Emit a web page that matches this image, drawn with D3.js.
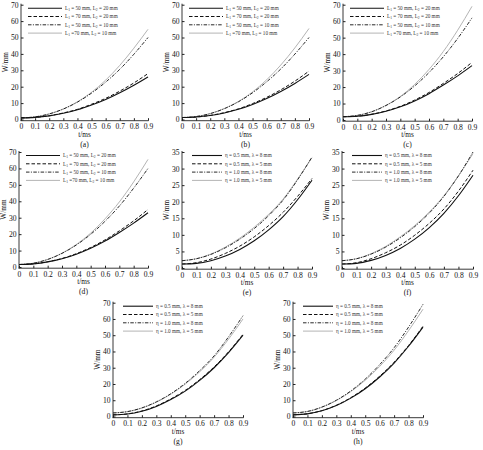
<!DOCTYPE html>
<html>
<head>
<meta charset="utf-8">
<script src="https://cdn.jsdelivr.net/npm/d3@7"></script>
<style>
  body { margin: 0; background: #fff; }
  svg { display: block; font-family: "Liberation Serif", "DejaVu Serif", serif; }
</style>
</head>
<body>
<svg id="chart" width="483" height="450"></svg>
<script>
// time axis (ms)
const times = [0, 0.1, 0.2, 0.3, 0.4, 0.5, 0.6, 0.7, 0.8, 0.9];
const xTicks = [0, 0.1, 0.2, 0.3, 0.4, 0.5, 0.6, 0.7, 0.8, 0.9];
const yTicks70 = [0, 10, 20, 30, 40, 50, 60, 70];
const yTicks35 = [0, 5, 10, 15, 20, 25, 30, 35];

// legend entries
const legendL = [
  ["50", "20"], ["70", "20"], ["50", "10"], ["70", "10"]
];
const legendEta = [
  "η = 0.5 mm, λ = 8 mm", "η = 0.5 mm, λ = 5 mm",
  "η = 1.0 mm, λ = 8 mm", "η = 1.0 mm, λ = 5 mm"
];

// W (mm) for each panel: solid, dashed, dash-dot, grey
const aSolid = [1, 1.3, 2.2, 3.8, 5.9, 8.8, 12.2, 16.3, 20.9, 26];
const aDash = [1, 1.3, 2.3, 4.0, 6.2, 9.3, 12.9, 17.3, 22.3, 28];
const aDashDot = [1, 1.6, 3.4, 6.4, 10.6, 16.1, 22.8, 30.6, 39.8, 50];
const aGray = [1, 1.6, 3.4, 6.4, 10.8, 16.6, 24, 33, 43.5, 55];

const bSolid = [1.2, 1.5, 2.4, 4.0, 6.2, 9.2, 12.8, 17.1, 22, 27.5];
const bDash = [1.2, 1.5, 2.5, 4.2, 6.5, 9.7, 13.5, 18.1, 23.4, 29.5];
const bDashDot = [1.2, 1.8, 3.6, 6.6, 10.8, 16.3, 23, 30.8, 39.9, 50];
const bGray = [1.2, 1.8, 3.6, 6.7, 11, 16.8, 24.2, 33.2, 43.7, 55.5];

const cSolid = [2, 2.3, 3.4, 5.3, 8, 11.6, 16, 21.2, 26.8, 33];
const cDash = [2, 2.3, 3.5, 5.5, 8.3, 12.1, 16.7, 22.2, 28.2, 35];
const cDashDot = [2, 2.8, 5, 8.8, 14, 20.7, 28.8, 38.4, 49.5, 62];
const cGray = [2, 2.8, 5, 8.9, 14.3, 21.6, 30.7, 41.6, 54.5, 69];

const dSolid = [1.5, 1.9, 3.1, 5, 7.8, 11.4, 15.8, 21, 26.7, 33];
const dDash = [1.5, 1.9, 3.2, 5.2, 8.1, 11.9, 16.5, 22, 28.1, 35];
const dDashDot = [1.5, 2.3, 4.6, 8.3, 13.4, 19.9, 27.8, 37.1, 48, 60];
const dGray = [1.5, 2.3, 4.6, 8.4, 13.7, 20.6, 29.3, 39.6, 51.8, 65.5];

const eSolid = [1.2, 1.4, 2.2, 3.6, 5.6, 8.2, 11.5, 15.5, 20.6, 26.5];
const eDash = [1.2, 1.6, 2.7, 4.4, 6.6, 9.4, 12.8, 16.8, 21.6, 27];
const eDashDot = [2.2, 2.8, 4.1, 6.1, 8.7, 11.9, 15.8, 20.5, 26.6, 33.5];
const eGray = [2.2, 2.8, 4.2, 6.3, 9, 12.3, 16.2, 20.8, 26.8, 33.3];

const fSolid = [1.2, 1.4, 2.3, 3.8, 5.9, 8.7, 12.2, 16.5, 21.8, 28];
const fDash = [1.2, 1.6, 2.8, 4.6, 6.9, 9.9, 13.5, 17.8, 23.2, 29.5];
const fDashDot = [2.2, 2.8, 4.2, 6.3, 9.1, 12.5, 16.6, 21.6, 27.8, 35];
const fGray = [2.2, 2.8, 4.3, 6.5, 9.4, 12.8, 16.9, 21.8, 27.8, 34.5];

const gSolid = [1, 1.5, 3.2, 6.2, 10.4, 15.6, 22.2, 30, 39.3, 50];
const gDash = [1, 1.6, 3.4, 6.5, 10.8, 16.1, 22.7, 30.5, 39.8, 50.5];
const gDashDot = [2.2, 3, 5.3, 9, 14, 20.4, 28.2, 37.3, 49, 62];
const gGray = [2.2, 3, 5.2, 8.8, 13.7, 19.9, 27.5, 36.5, 47.6, 60];

const hSolid = [1, 1.6, 3.5, 6.7, 11.3, 17.1, 24.3, 32.9, 43.2, 55];
const hDash = [1, 1.7, 3.6, 6.9, 11.6, 17.5, 24.8, 33.4, 43.7, 55.5];
const hDashDot = [2.2, 3.1, 5.8, 10, 15.7, 23, 31.9, 42.3, 55, 69];
const hGray = [2.2, 3.1, 5.7, 9.8, 15.3, 22.3, 30.8, 40.8, 52.8, 66];

// line styles: solid, dashed, dash-dot, light grey
const styles = [
  { stroke: "#111", width: 1.1, dash: null },
  { stroke: "#111", width: 1.0, dash: "3.5,2" },
  { stroke: "#111", width: 0.9, dash: "3.5,1.4,1,1.4" },
  { stroke: "#b4b4b4", width: 1.0, dash: null }
];

// panel placement: x0/x1 = pixel of t=0 / t=0.9, yTop = pixel of max tick, yZero = pixel of 0
const panels = [
  { label: "(a)", x0: 21, x1: 148, yTop: 4.7, yZero: 119.5, ymax: 70, ticks: yTicks70, legend: "L", series: [aSolid, aDash, aDashDot, aGray] },
  { label: "(b)", x0: 182, x1: 309, yTop: 4.7, yZero: 119.5, ymax: 70, ticks: yTicks70, legend: "L", series: [bSolid, bDash, bDashDot, bGray] },
  { label: "(c)", x0: 343, x1: 472, yTop: 4.7, yZero: 120, ymax: 70, ticks: yTicks70, legend: "L", series: [cSolid, cDash, cDashDot, cGray] },
  { label: "(d)", x0: 19, x1: 148, yTop: 152, yZero: 267, ymax: 70, ticks: yTicks70, legend: "L", series: [dSolid, dDash, dDashDot, dGray] },
  { label: "(e)", x0: 182, x1: 312, yTop: 152, yZero: 268, ymax: 35, ticks: yTicks35, legend: "eta", series: [eSolid, eDash, eDashDot, eGray] },
  { label: "(f)", x0: 342, x1: 473, yTop: 152, yZero: 268, ymax: 35, ticks: yTicks35, legend: "eta", series: [fSolid, fDash, fDashDot, fGray] },
  { label: "(g)", x0: 113, x1: 243, yTop: 302.7, yZero: 416.5, ymax: 70, ticks: yTicks70, legend: "eta", series: [gSolid, gDash, gDashDot, gGray] },
  { label: "(h)", x0: 293, x1: 423, yTop: 302.7, yZero: 416.5, ymax: 70, ticks: yTicks70, legend: "eta", series: [hSolid, hDash, hDashDot, hGray] }
];

const svg = d3.select("#chart");

panels.forEach(function (p) {
  const x = d3.scaleLinear().domain([0, 0.9]).range([p.x0, p.x1]);
  const y = d3.scaleLinear().domain([0, p.ymax]).range([p.yZero, p.yTop]);
  const base = p.yZero + 1.2;
  const g = svg.append("g");

  // curves
  const line = d3.line()
    .x(function (d, i) { return x(times[i]); })
    .y(function (d) { return y(d); })
    .curve(d3.curveMonotoneX);

  // draw grey first so the black lines sit on top
  [3, 0, 1, 2].forEach(function (k) {
    const s = styles[k];
    g.append("path")
      .datum(p.series[k])
      .attr("d", line)
      .attr("fill", "none")
      .attr("stroke", s.stroke)
      .attr("stroke-width", s.width)
      .attr("stroke-dasharray", s.dash);
  });

  // x axis
  const xAxis = d3.axisBottom(x).tickValues(xTicks).tickSize(-2.5).tickPadding(3)
    .tickFormat(function (d) { return d === 0 ? "0" : d3.format(".1f")(d); });
  const gx = g.append("g").attr("transform", "translate(0," + base + ")").call(xAxis);
  gx.select(".domain").attr("d", "M" + (p.x0 - 0.5) + ",0H" + (p.x1 + 0.5));
  gx.selectAll("text").attr("font-size", 7.6).attr("fill", "#111").attr("font-family", "Liberation Serif");
  gx.selectAll("line").attr("stroke", "#222");
  gx.select(".domain").attr("stroke", "#222").attr("stroke-width", 0.9);

  // y axis
  const yAxis = d3.axisLeft(y).tickValues(p.ticks).tickSize(-2.5).tickPadding(2.5);
  const gy = g.append("g").attr("transform", "translate(" + p.x0 + ",0)").call(yAxis);
  gy.select(".domain").attr("d", "M0," + (p.yTop - 1) + "V" + base);
  gy.selectAll("text").attr("font-size", 7.6).attr("fill", "#111").attr("font-family", "Liberation Serif");
  gy.selectAll("line").attr("stroke", "#222");
  gy.select(".domain").attr("stroke", "#222").attr("stroke-width", 0.9);

  // axis titles
  g.append("text")
    .attr("x", (p.x0 + p.x1) / 2)
    .attr("y", base + 16)
    .attr("text-anchor", "middle")
    .attr("font-size", 7.3)
    .attr("fill", "#111")
    .text("t/ms");
  g.append("text")
    .attr("transform", "translate(" + (p.x0 - 13.5) + "," + ((p.yTop + p.yZero) / 2) + ") rotate(-90)")
    .attr("text-anchor", "middle")
    .attr("font-size", 7.3)
    .attr("fill", "#111")
    .text("W/mm");
  g.append("text")
    .attr("x", (p.x0 + p.x1) / 2)
    .attr("y", base + 26)
    .attr("text-anchor", "middle")
    .attr("font-size", 7.6)
    .attr("fill", "#111")
    .text(p.label);

  // legend
  const rows = [3.5, 11.8, 20.1, 28.4];
  const lx0 = p.legend === "L" ? p.x0 + 7 : p.x0 + 10;
  const lx1 = lx0 + (p.legend === "L" ? 34 : 30);
  rows.forEach(function (dy, k) {
    const s = styles[k];
    const ry = p.yTop + dy;
    g.append("line")
      .attr("x1", lx0).attr("x2", lx1)
      .attr("y1", ry).attr("y2", ry)
      .attr("stroke", s.stroke)
      .attr("stroke-width", s.width)
      .attr("stroke-dasharray", s.dash);
    const t = g.append("text")
      .attr("x", lx1 + 3)
      .attr("y", ry + 1.8)
      .attr("font-size", 5.2)
      .attr("fill", "#333");
    if (p.legend === "L") {
      const v = legendL[k];
      t.append("tspan").text("L");
      t.append("tspan").attr("font-size", 3.6).attr("dy", 1).text("1");
      t.append("tspan").attr("dy", -1).text(k === 3 ? " =" + v[0] + " mm, L" : " = " + v[0] + " mm, L");
      t.append("tspan").attr("font-size", 3.6).attr("dy", 1).text("2");
      t.append("tspan").attr("dy", -1).text(" = " + v[1] + " mm");
    } else {
      t.text(legendEta[k]);
    }
  });
});
</script>
</body>
</html>
